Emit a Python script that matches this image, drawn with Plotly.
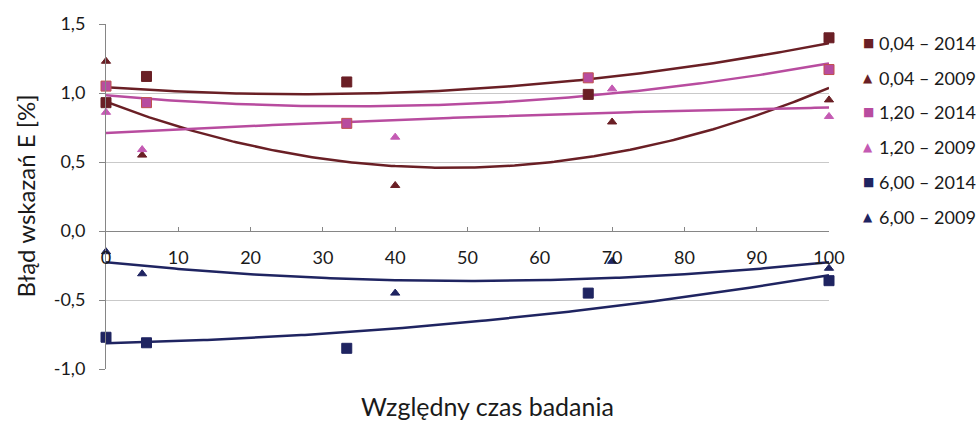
import numpy as np
import plotly.graph_objects as go

# ---- data ----
x_2014 = [0, 5.6, 33.3, 66.7, 100]
x_2009 = [0, 5, 40, 70, 100]

y_004_2014 = [0.93, 1.12, 1.08, 0.99, 1.40]
y_004_2009 = [1.23, 0.55, 0.33, 0.79, 0.95]
y_120_2014 = [1.05, 0.93, 0.78, 1.11, 1.17]
y_120_2009 = [0.86, 0.59, 0.68, 1.03, 0.83]
y_600_2014 = [-0.77, -0.81, -0.85, -0.45, -0.36]
y_600_2009 = [-0.15, -0.31, -0.45, -0.22, -0.27]

names = ["0,04 – 2014", "0,04 – 2009", "1,20 – 2014", "1,20 – 2009", "6,00 – 2014", "6,00 – 2009"]

y_tickvals = [-1.0, -0.5, 0.0, 0.5, 1.0, 1.5]
y_ticktext = ["-1,0", "-0,5", "0,0", "0,5", "1,0", "1,5"]
x_tickvals = [0, 10, 20, 30, 40, 50, 60, 70, 80, 90, 100]

x_title = "Względny czas badania"
y_title = "Błąd wskazań E [%]"

DARK_RED = "#6A1F25"
PINK = "#B84C9F"
PINK_T = "#C45AB3"
NAVY = "#1F2461"

series = [
    (names[0], x_2014, y_004_2014, "square", DARK_RED, DARK_RED, 10, DARK_RED),
    (names[1], x_2009, y_004_2009, "triangle-up", DARK_RED, DARK_RED, 8, DARK_RED),
    (names[2], x_2014, y_120_2014, "square", PINK, "#C0504D", 10, PINK),
    (names[3], x_2009, y_120_2009, "triangle-up", PINK_T, PINK_T, 8, PINK),
    (names[4], x_2014, y_600_2014, "square", NAVY, NAVY, 10, NAVY),
    (names[5], x_2009, y_600_2009, "triangle-up", NAVY, NAVY, 8, NAVY),
]

FONT = "Lato"
TXT = "#1a1a1a"
W, H = 976, 421
ML, MR, MT, MB = 106, 147, 20, 52
PW, PH = W - ML - MR, H - MT - MB

fig = go.Figure()

xs = np.linspace(0, 100, 201)
for nm, xv, yv, sym, fc, lc, sz, tc in series:
    coef = np.polyfit(xv, yv, 2)
    fig.add_trace(go.Scatter(x=xs, y=np.polyval(coef, xs), mode="lines",
                             line=dict(color=tc, width=2.5), showlegend=False,
                             hoverinfo="skip"))
for nm, xv, yv, sym, fc, lc, sz, tc in series:
    fig.add_trace(go.Scatter(x=xv, y=yv, mode="markers", name=nm, showlegend=False,
                             marker=dict(symbol=sym, size=sz, color=fc,
                                         line=dict(color=lc, width=1)),
                             cliponaxis=False))

# hand-placed legend (annotations, so the plot area is not pushed)
annotations = []
for i, (nm, xv, yv, sym, fc, lc, sz, tc) in enumerate(series):
    ypx = 39 + 35.2 * i
    yp = (H - MB - ypx) / PH
    glyph = "■" if sym == "square" else "▲"
    annotations.append(dict(text=glyph, xref="paper", yref="paper",
                            x=(868 - ML) / PW, y=yp, xanchor="center", yanchor="middle",
                            showarrow=False,
                            font=dict(family="DejaVu Sans", size=12 if sym == "square" else 12,
                                      color=fc)))
    annotations.append(dict(text=nm, xref="paper", yref="paper",
                            x=(877 - ML) / PW, y=yp, xanchor="left", yanchor="middle",
                            showarrow=False, font=dict(family=FONT, size=18, color=TXT)))

annotations += [
    dict(text=x_title, xref="paper", yref="paper", x=0.527, y=-0.106,
         xanchor="center", yanchor="middle", showarrow=False,
         font=dict(family=FONT, size=25, color=TXT)),
    dict(text=y_title, xref="paper", yref="paper", x=-0.112, y=0.5,
         xanchor="center", yanchor="middle", showarrow=False, textangle=-90,
         font=dict(family=FONT, size=24, color=TXT)),
]

fig.update_layout(
    width=W, height=H,
    margin=dict(l=ML, r=MR, t=MT, b=MB),
    plot_bgcolor="white", paper_bgcolor="white",
    font=dict(family=FONT, size=18, color=TXT),
    showlegend=False,
    xaxis=dict(range=[0, 100], tickvals=x_tickvals, showgrid=False, zeroline=False,
               anchor="free", position=0.4, showline=True, linecolor="#868686", linewidth=1,
               ticks="inside", ticklen=4, tickcolor="#868686", ticklabelstandoff=10,
               tickfont=dict(family=FONT, size=18, color=TXT)),
    yaxis=dict(range=[-1, 1.5], tickvals=y_tickvals, ticktext=y_ticktext,
               showgrid=True, gridcolor="#C9C9C9", gridwidth=1, zeroline=False,
               showline=True, linecolor="#868686", linewidth=1,
               ticks="outside", ticklen=6, tickcolor="#868686", ticklabelstandoff=10,
               tickfont=dict(family=FONT, size=18, color=TXT)),
    annotations=annotations,
)

fig.write_html("out.html")
